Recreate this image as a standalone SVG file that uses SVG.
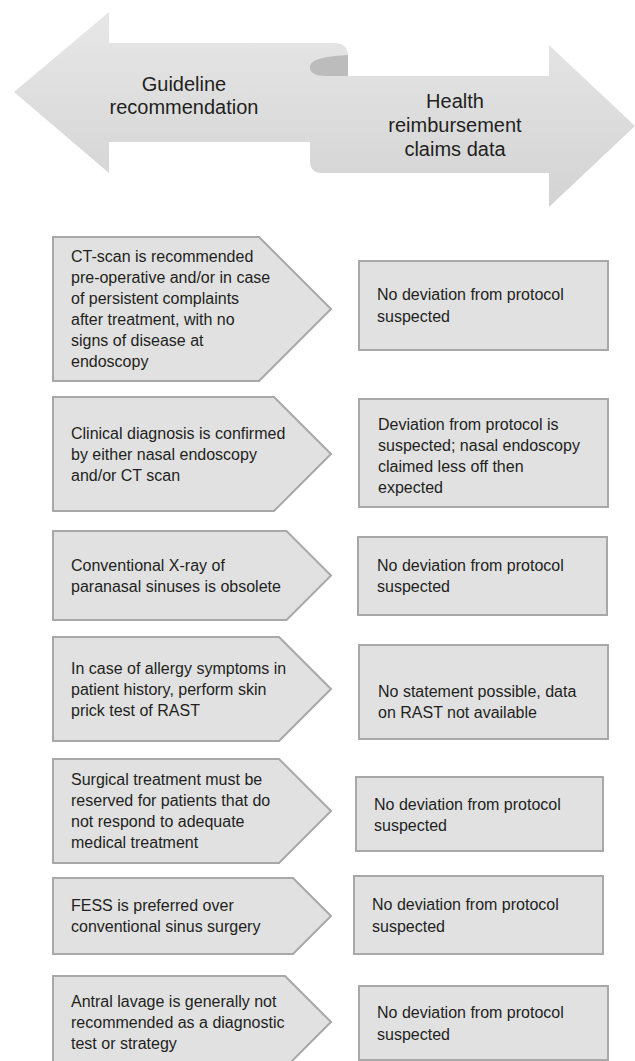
<svg xmlns="http://www.w3.org/2000/svg" width="635" height="1061" viewBox="0 0 635 1061">
<defs>
<linearGradient id="arrowFill" gradientUnits="userSpaceOnUse" x1="0" y1="12" x2="0" y2="207">
<stop offset="0" stop-color="#e7e7e8"/>
<stop offset="1" stop-color="#d3d3d4"/>
</linearGradient>
<style>
.shape{fill:#e1e1e2;stroke:#a8a8a8;stroke-width:2;}
.t{font-family:"Liberation Sans",Arial,sans-serif;font-size:16px;fill:#231f20;}
.title{font-family:"Liberation Sans",Arial,sans-serif;font-size:20px;fill:#231f20;text-anchor:middle;}
</style>
</defs>
<rect width="635" height="1061" fill="#ffffff"/>

<g id="header">
<path d="M14,92 L109,12 L109,43 L334,43 Q348,43 348,56 L348,76 L320,76 L320,142 L109,142 L109,173 Z" fill="url(#arrowFill)"/>
<path d="M310,76 L549,76 L549,45 L635,126 L549,207 L549,173 L322,173 Q310,173 310,161 Z" fill="url(#arrowFill)"/>
<path d="M348,55 C330,56 312,58 310,66 C309,73 316,76 326,76 L348,76 Z" fill="#bcbcbd"/>
<text class="title" x="184" y="91">Guideline</text>
<text class="title" x="184" y="114">recommendation</text>
<text class="title" x="455" y="108">Health</text>
<text class="title" x="455" y="132">reimbursement</text>
<text class="title" x="455" y="156">claims data</text>
</g>

<g id="g1">
<path class="shape" d="M53,237 L259,237 L331,309 L259,381 L53,381 Z"/>
<text class="t" x="71" y="262">CT-scan is recommended</text>
<text class="t" x="71" y="283">pre-operative and/or in case</text>
<text class="t" x="71" y="304">of persistent complaints</text>
<text class="t" x="71" y="325">after treatment, with no</text>
<text class="t" x="71" y="346">signs of disease at</text>
<text class="t" x="71" y="367">endoscopy</text>
</g>
<g id="c1">
<rect class="shape" x="359" y="261" width="249" height="89"/>
<text class="t" x="377" y="300">No deviation from protocol</text>
<text class="t" x="377" y="322">suspected</text>
</g>

<g id="g2">
<path class="shape" d="M53,397 L274,397 L331,454 L274,511 L53,511 Z"/>
<text class="t" x="71" y="439">Clinical diagnosis is confirmed</text>
<text class="t" x="71" y="460">by either nasal endoscopy</text>
<text class="t" x="71" y="481">and/or CT scan</text>
</g>
<g id="c2">
<rect class="shape" x="359" y="399" width="249" height="108"/>
<text class="t" x="378" y="430">Deviation from protocol is</text>
<text class="t" x="378" y="451">suspected; nasal endoscopy</text>
<text class="t" x="378" y="472">claimed less off then</text>
<text class="t" x="378" y="493">expected</text>
</g>

<g id="g3">
<path class="shape" d="M53,531 L286.5,531 L331,575.5 L286.5,620 L53,620 Z"/>
<text class="t" x="71" y="571">Conventional X-ray of</text>
<text class="t" x="71" y="592">paranasal sinuses is obsolete</text>
</g>
<g id="c3">
<rect class="shape" x="358" y="537" width="249" height="78"/>
<text class="t" x="377" y="571">No deviation from protocol</text>
<text class="t" x="377" y="592">suspected</text>
</g>

<g id="g4">
<path class="shape" d="M53,637 L279,637 L331,689 L279,741 L53,741 Z"/>
<text class="t" x="71" y="674">In case of allergy symptoms in</text>
<text class="t" x="71" y="695">patient history, perform skin</text>
<text class="t" x="71" y="716">prick test of RAST</text>
</g>
<g id="c4">
<rect class="shape" x="359" y="645" width="249" height="94"/>
<text class="t" x="378" y="697">No statement possible, data</text>
<text class="t" x="378" y="718">on RAST not available</text>
</g>

<g id="g5">
<path class="shape" d="M53,759 L279,759 L331,811 L279,863 L53,863 Z"/>
<text class="t" x="71" y="785">Surgical treatment must be</text>
<text class="t" x="71" y="806">reserved for patients that do</text>
<text class="t" x="71" y="827">not respond to adequate</text>
<text class="t" x="71" y="848">medical treatment</text>
</g>
<g id="c5">
<rect class="shape" x="356" y="777" width="247" height="74"/>
<text class="t" x="374" y="810">No deviation from protocol</text>
<text class="t" x="374" y="831">suspected</text>
</g>

<g id="g6">
<path class="shape" d="M53,878 L293,878 L331,916 L293,954 L53,954 Z"/>
<text class="t" x="71" y="911">FESS is preferred over</text>
<text class="t" x="71" y="932">conventional sinus surgery</text>
</g>
<g id="c6">
<rect class="shape" x="354" y="876" width="249" height="78"/>
<text class="t" x="372" y="910">No deviation from protocol</text>
<text class="t" x="372" y="932">suspected</text>
</g>

<g id="g7">
<path class="shape" d="M53,976 L285,976 L331,1022 L285,1068 L53,1068 Z"/>
<text class="t" x="71" y="1007">Antral lavage is generally not</text>
<text class="t" x="71" y="1028">recommended as a diagnostic</text>
<text class="t" x="71" y="1049">test or strategy</text>
</g>
<g id="c7">
<rect class="shape" x="359" y="986" width="249" height="74"/>
<text class="t" x="377" y="1018">No deviation from protocol</text>
<text class="t" x="377" y="1040">suspected</text>
</g>

<g id="connectors"/>
</svg>
